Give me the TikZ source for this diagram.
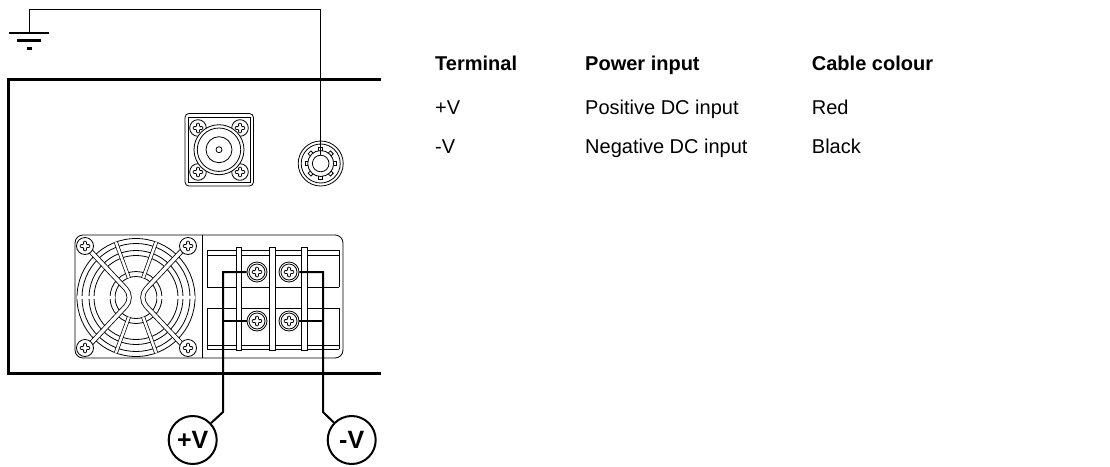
\documentclass[tikz,border=0pt]{standalone}
\usepackage{fontspec}
\setmainfont{Liberation Sans}
\usepackage{tikz}

% plus-shaped screw head, centred on #1
\newcommand{\crosshead}[1]{%
  \draw[thinline, rounded corners=0.8pt, shift={#1}] (-1.4,4.8) -- (1.4,4.8) -- (1.4,1.4) -- (4.8,1.4) -- (4.8,-1.4) -- (1.4,-1.4) -- (1.4,-4.8) -- (-1.4,-4.8) -- (-1.4,-1.4) -- (-4.8,-1.4) -- (-4.8,1.4) -- (-1.4,1.4) -- cycle;}

\begin{document}
\begin{tikzpicture}[x=1pt, y=-1pt,
    thinline/.style={line width=0.8pt},
    housing/.style={line width=3pt},
    wire/.style={line width=2pt},
    gndwire/.style={line width=1pt},
    gndbar/.style={line width=2.5pt},
    band/.style={line width=0.8pt, double=white, double distance=3.5pt},
    spoke/.style={line width=0.7pt, double=white, double distance=2.5pt},
    cell/.style={anchor=base west, inner sep=0pt, font=\fontsize{20}{24}\selectfont},
    head/.style={cell, font=\fontsize{20}{24}\selectfont\bfseries},
    polarity/.style={circle, draw, line width=2pt, minimum size=48pt, inner sep=0pt, font=\fontsize{25}{30}\selectfont\bfseries},
    tscrew/.style={circle, draw, thinline, fill=white, minimum size=20pt, inner sep=0pt}]
    \useasboundingbox (0,0) rectangle (1110,466);

    % housing
    \draw[housing] (381,79) -| (8,373) -- (381,373);

    % coax input
    \draw[thinline, rounded corners=4pt] (185,113.5) rectangle (253.5,186);
    \draw[thinline] (188.5,117) rectangle (250,182.5);
    \foreach \p in {(198,128),(240,128),(198,172),(240,172)} {
        \draw[thinline, fill=white] \p circle (8.3);
        \crosshead{\p}
    }
    \draw[thinline, fill=white] (219,149.7) circle (25);
    \draw[thinline] (219,149.7) circle (21.7);
    \draw[thinline] (219,149.7) circle (13);
    \draw[thinline] (219,149.7) circle (3);

    % chassis ground stud
    \draw[thinline] (320.7,163.5) circle (22.5);
    \draw[thinline] (320.7,163.5) circle (19.5);
    \draw[thinline] (320.7,163.5) circle (13);
    \foreach \a in {0,45,...,315}
        \draw[thinline, shift={(320.7,163.5)}, rotate=\a] (12.8,-2) -- (15.8,-2) -- (15.8,2) -- (12.8,2);
    \node[circle, draw, thinline, minimum size=16.6pt, inner sep=0pt] (chassis) at (320.7,163.5) {};

    % ground
    \coordinate (gnd) at (29,33);
    \coordinate (gndTop) at (320.7,9.5);
    \draw[gndwire] (gnd) |- (gndTop) -- (chassis.north);
    \draw[gndbar] (9,33) -- (49,33);
    \draw[gndbar] (17,40.7) -- (41,40.7);
    \draw[gndbar] (26.5,48.7) -- (31.5,48.7);

    % fan and terminal housing
    \draw[thinline, rounded corners=8pt] (75,235) rectangle (343,358);
    \draw[thinline] (202.7,235) -- (202.7,358);

    % fan
    \begin{scope}[shift={(136,297.5)}]
        \foreach \r in {59,54,47,42,26,21}
            \draw[thinline] (0,0) circle (\r);
        \foreach \a in {0,70,110,180,250,290}
            \draw[spoke] (\a:21) -- (\a:59);
        \draw[band, rounded corners=12pt] (-48,-49) -- (-2,0) -- (-48,49);
        \draw[band, rounded corners=12pt] (48,-49) -- (2,0) -- (48,49);
    \end{scope}
    \foreach \p in {(85,246),(188,246),(85,348),(188,348)} {
        \draw[thinline, fill=white] \p circle (8.5);
        \crosshead{\p}
    }

    % terminal block
    \foreach \yy in {250,255,287,308,345,349}
        \draw[thinline] (207,\yy) -- (339,\yy);
    \draw[thinline] (207,250) -- (207,287) (207,308) -- (207,349)
                    (339,250) -- (339,287) (339,308) -- (339,349);
    \foreach \xx in {236,269.5,301.7}
        \draw[thinline, fill=white] (\xx,247) rectangle ++(5.5,103);
    \node[tscrew] (termPosTop) at (257,272) {};
    \node[tscrew] (termNegTop) at (289,272) {};
    \node[tscrew] (termPosBot) at (257,321) {};
    \node[tscrew] (termNegBot) at (289,321) {};
    \foreach \n in {termPosTop,termNegTop,termPosBot,termNegBot} {
        \draw[thinline] (\n.center) circle (8);
        \crosshead{(\n.center)}
    }

    % polarity labels
    \node[polarity] (plusV) at (192.7,440) {+V};
    \node[polarity] (minusV) at (351.7,440) {-V};
    \coordinate (kneePos) at (223,412);
    \coordinate (kneeNeg) at (323,412);

    % cables
    \draw[wire] (termPosTop.west) -- (termPosTop.west -| kneePos) -- (kneePos) -- (plusV);
    \draw[wire] (termPosBot.west) -- (termPosBot.west -| kneePos);
    \draw[wire] (termNegTop.east) -- (termNegTop.east -| kneeNeg) -- (kneeNeg) -- (minusV);
    \draw[wire] (termNegBot.east) -- (termNegBot.east -| kneeNeg);

    % table
    \node[head] (hTerm) at (435,70) {Terminal};
    \node[head] (hPower) at (585,70) {Power input};
    \node[head] (hCable) at (811.7,70) {Cable colour};
    \node[cell] (posTerm) at (435,114.5) {+V};
    \node[cell] (posPower) at (585,114.5) {Positive DC input};
    \node[cell] (posCable) at (811.7,114.5) {Red};
    \node[cell] (negTerm) at (435,153.5) {-V};
    \node[cell] (negPower) at (585,153.5) {Negative DC input};
    \node[cell] (negCable) at (811.7,153.5) {Black};
\end{tikzpicture}
\end{document}
